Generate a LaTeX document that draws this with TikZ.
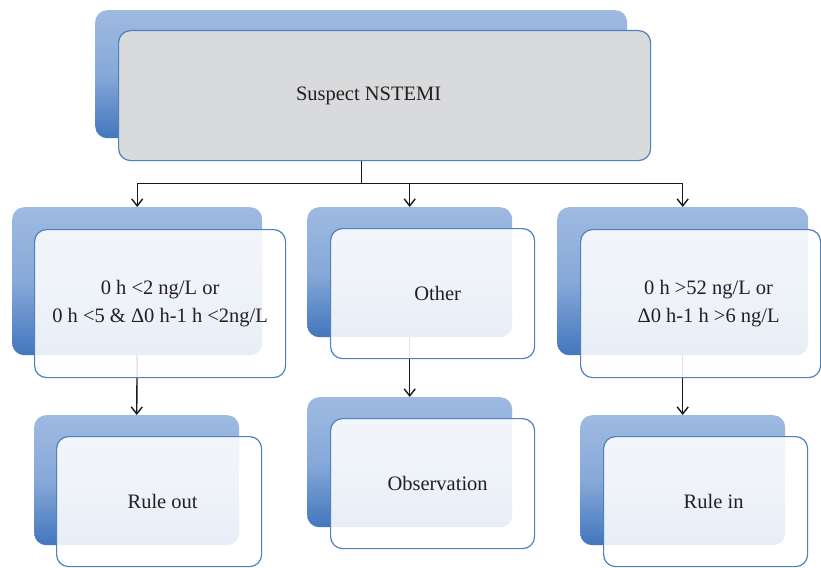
\documentclass[tikz,border=0pt]{standalone}
\usepackage{fontspec}
\setmainfont{Liberation Serif}
\usetikzlibrary{positioning,arrows.meta}

\definecolor{backtop}{RGB}{158,186,225}
\definecolor{backbot}{RGB}{66,118,190}
\definecolor{frontline}{RGB}{79,129,189}
\definecolor{topfill}{RGB}{217,218,220}
\definecolor{inktext}{RGB}{35,31,32}

\tikzset{
  backbox/.style={rectangle, rounded corners=12pt, inner sep=0pt, anchor=north west,
    top color=backtop, bottom color=backbot, middle color=backtop!75!backbot},
  frontbox/.style={rectangle, rounded corners=12pt, draw=frontline, line width=1.2pt,
    fill=white, fill opacity=0.88, text opacity=1, text=inktext, align=center,
    inner sep=0pt, font=\fontsize{20.5}{28}\selectfont},
  topbox/.style={frontbox, fill=topfill, fill opacity=1},
  link/.style={line width=1.4pt, black!90},
  >={Straight Barb[length=7pt,width=11pt]}
}

\begin{document}
\begin{tikzpicture}[x=1pt,y=-1pt]
  \useasboundingbox (0,0) rectangle (821,567);
  % back plates
  \node [backbox, minimum width=532pt, minimum height=128pt] (b1) at (95,10) {};
  \node [backbox, minimum width=250pt, minimum height=148pt] (b2) at (12,207) {};
  \node [backbox, minimum width=205pt, minimum height=130pt] (b3) at (307,207) {};
  \node [backbox, minimum width=251pt, minimum height=148pt] (b4) at (557,207) {};
  \node [backbox, minimum width=205pt, minimum height=130pt] (b5) at (34,415) {};
  \node [backbox, minimum width=205pt, minimum height=130pt] (b6) at (307,397) {};
  \node [backbox, minimum width=205pt, minimum height=130pt] (b7) at (580,415) {};
  % connectors
  \draw [link] (b1.south) -- +(0,45) coordinate (fork);
  \draw [link,->] (fork) -| (b2.north);
  \draw [link,->] (fork) -| (b3.north);
  \draw [link,->] (fork) -| (b4.north);
  \draw [link,->] (b2.south) -- (b5.north);
  \draw [link,->] (b3.south) -- (b6.north);
  \draw [link,->] (b4.south) -- (b7.north);
  % front plates
  \node [topbox, minimum width=532pt, minimum height=130pt,
    below right=20pt and 23pt of b1.north west] (f1) {\raisebox{-5pt}{Suspect NSTEMI}\hspace*{32pt}};
  \node [frontbox, minimum width=251pt, minimum height=148pt,
    below right=22pt and 22pt of b2.north west] (f2) {0 h <2 ng/L or\\0 h <5 \& Δ0 h-1 h <2ng/L};
  \node [frontbox, minimum width=204pt, minimum height=130pt,
    below right=21pt and 23pt of b3.north west] (f3) {\hspace*{10pt}\raisebox{-2pt}{Other}};
  \node [frontbox, minimum width=240pt, minimum height=148pt,
    below right=22pt and 23pt of b4.north west] (f4) {\hspace*{16pt}0 h >52 ng/L or\\\hspace*{16pt}Δ0 h-1 h >6 ng/L};
  \node [frontbox, minimum width=205pt, minimum height=130pt,
    below right=21pt and 22pt of b5.north west] (f5) {\hspace*{7pt}\raisebox{-2pt}{Rule out}};
  \node [frontbox, minimum width=204pt, minimum height=130pt,
    below right=21pt and 23pt of b6.north west] (f6) {\hspace*{10pt}\raisebox{-2pt}{Observation}};
  \node [frontbox, minimum width=204pt, minimum height=130pt,
    below right=21pt and 23pt of b7.north west] (f7) {\hspace*{16pt}\raisebox{-2pt}{Rule in}};
\end{tikzpicture}
\end{document}
